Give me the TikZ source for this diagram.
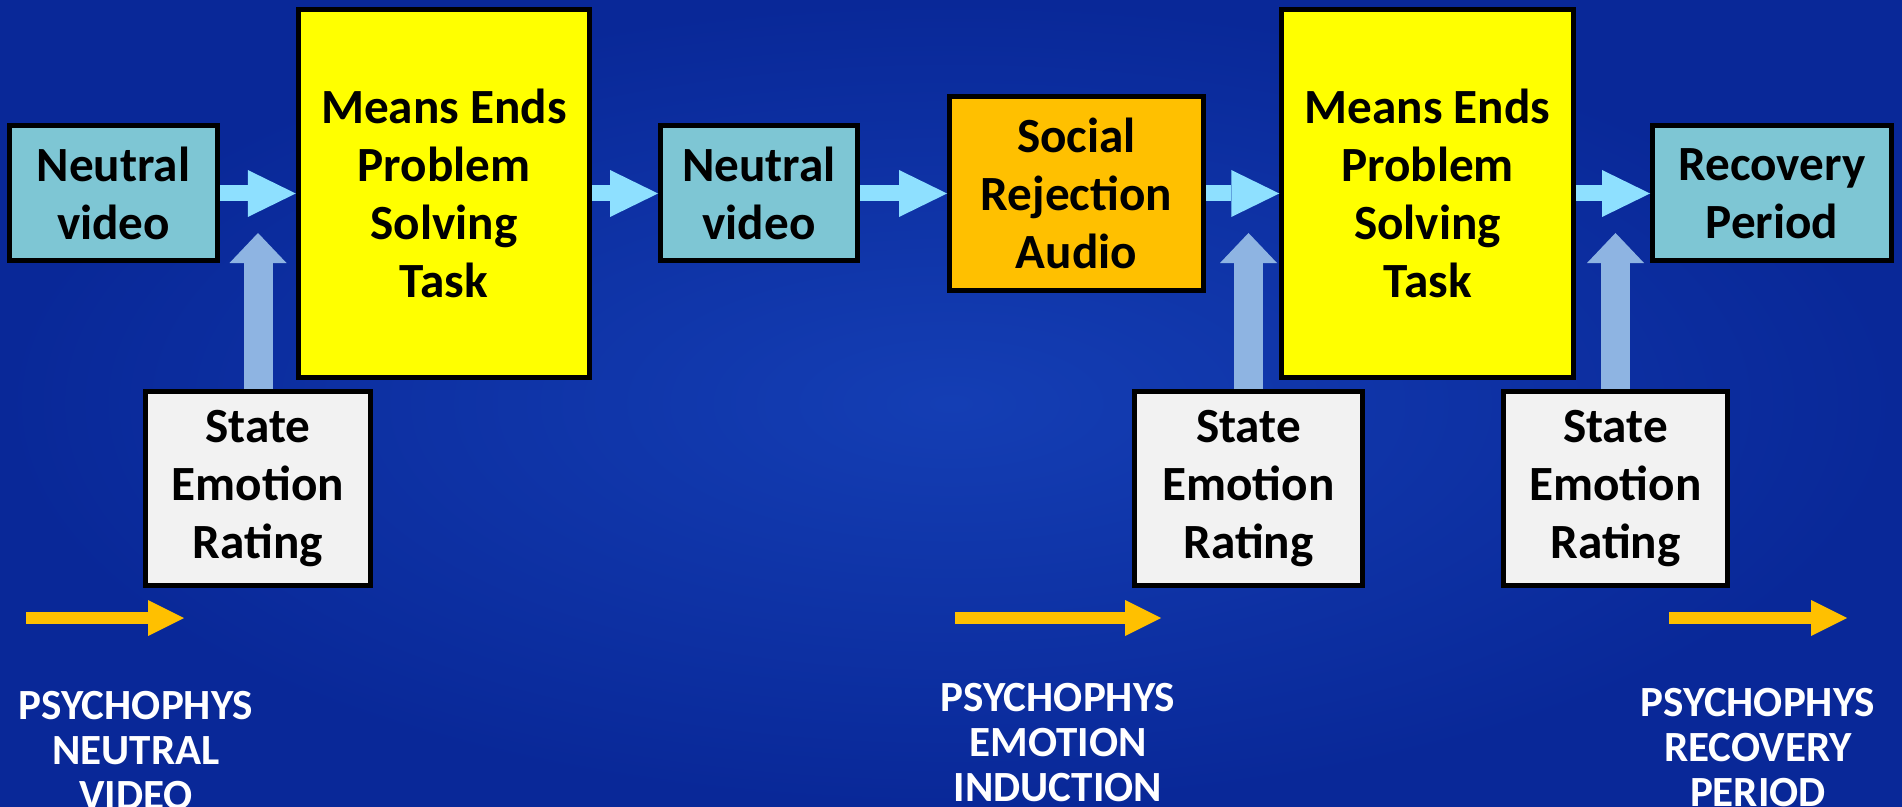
\documentclass[tikz,border=0pt]{standalone}
\usepackage{fontspec}
\setmainfont{Carlito}
\usetikzlibrary{arrows.meta}

\definecolor{bgin}{RGB}{20,62,180}
\definecolor{bgout}{RGB}{9,40,152}
\definecolor{vidcol}{RGB}{126,198,212}
\definecolor{taskcol}{RGB}{255,255,0}
\definecolor{rejcol}{RGB}{255,192,0}
\definecolor{ratecol}{RGB}{242,242,242}
\definecolor{flowcol}{RGB}{142,224,255}
\definecolor{upcol}{RGB}{142,180,226}
\definecolor{timecol}{RGB}{255,192,0}

\tikzset{
  box/.style={draw=black, line width=0.1cm, align=center, inner sep=0pt,
              font=\fontsize{28}{33}\selectfont\bfseries},
  vidbox/.style={box, fill=vidcol, minimum height=2.70cm},
  taskbox/.style={box, fill=taskcol, minimum width=5.83cm, minimum height=7.36cm},
  rejbox/.style={box, fill=rejcol, minimum width=5.08cm, minimum height=3.88cm},
  ratebox/.style={box, fill=ratecol, minimum height=3.88cm},
  flow/.style={draw=flowcol, line width=0.32cm,
               -{Triangle[length=0.96cm,width=0.94cm,line width=0pt]}},
  upflow/.style={draw=upcol, line width=0.58cm,
                 -{Triangle[length=0.6cm,width=1.14cm,line width=0pt]}},
  timeline/.style={draw=timecol, line width=0.24cm,
                   -{Triangle[length=0.72cm,width=0.72cm,line width=0pt]}},
  phase/.style={text=white, align=center, inner sep=0pt, anchor=north,
                font=\fontsize{24.5}{25.6}\selectfont\bfseries},
}

\begin{document}
\begin{tikzpicture}
% background
\useasboundingbox (0,0) rectangle (38.04,-16.14);
\shade[inner color=bgin, outer color=bgout] (0,0) rectangle (38.04,-16.14);

% top row
\node[vidbox, minimum width=4.16cm] (vid1) at (2.27,-3.87) {Neutral\\video};
\node[taskbox] (task1) at (8.88,-3.87) {Means Ends\\Problem\\Solving\\Task};
\node[vidbox, minimum width=3.94cm] (vid2) at (15.18,-3.87) {Neutral\\video};
\node[rejbox] (rej) at (21.53,-3.87) {Social\\Rejection\\Audio};
\node[taskbox] (task2) at (28.55,-3.87) {Means Ends\\Problem\\Solving\\Task};
\node[vidbox, minimum width=4.78cm] (rec) at (35.44,-3.87) {Recovery\\Period};

% ratings
\node[ratebox, minimum width=4.50cm] (rate1) at (5.16,-9.77) {State\\Emotion\\Rating};
\node[ratebox, minimum width=4.56cm] (rate2) at (24.97,-9.77) {State\\Emotion\\Rating};
\node[ratebox, minimum width=4.48cm] (rate3) at (32.31,-9.77) {State\\Emotion\\Rating};

% flow arrows
\draw[flow] (vid1) -- (task1);
\draw[flow] (task1) -- (vid2);
\draw[flow] (vid2) -- (rej);
\draw[flow] (rej) -- (task2);
\draw[flow] (task2) -- (rec);

% rating arrows
\coordinate (up1) at (5.16,-4.66);
\coordinate (up2) at (24.97,-4.66);
\coordinate (up3) at (32.31,-4.66);
\draw[upflow] (rate1) -- (up1);
\draw[upflow] (rate2) -- (up2);
\draw[upflow] (rate3) -- (up3);

% recording periods
\coordinate (rec1a) at (0.52,-12.36);
\coordinate (rec1b) at (3.68,-12.36);
\coordinate (rec2a) at (19.10,-12.36);
\coordinate (rec2b) at (23.22,-12.36);
\coordinate (rec3a) at (33.38,-12.36);
\coordinate (rec3b) at (36.94,-12.36);
\draw[timeline] (rec1a) -- (rec1b);
\draw[timeline] (rec2a) -- (rec2b);
\draw[timeline] (rec3a) -- (rec3b);

\node[phase] (ph1) at (2.72,-13.82) {PSYCHOPHYS\\NEUTRAL\\VIDEO};
\node[phase] (ph2) at (21.16,-13.66) {PSYCHOPHYS\\EMOTION\\INDUCTION};
\node[phase] (ph3) at (35.16,-13.76) {PSYCHOPHYS\\RECOVERY\\PERIOD};
\end{tikzpicture}
\end{document}
